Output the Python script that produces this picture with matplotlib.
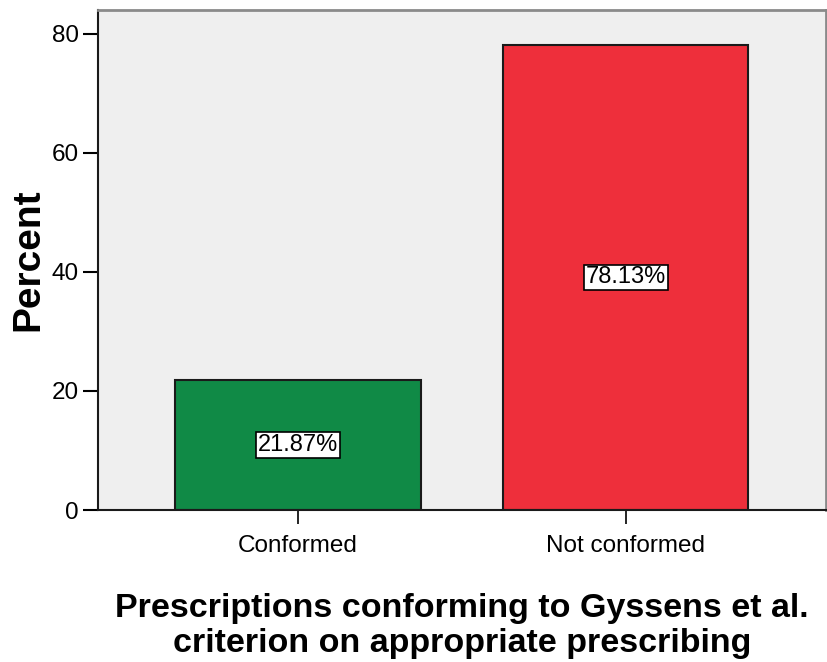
import matplotlib.pyplot as plt
import numpy as np

plt.rcParams['font.family'] = ['Liberation Sans', 'DejaVu Sans']

# categories and percentages
categories = ["Conformed", "Not conformed"]
percents = [21.87, 78.13]
bar_colors = ["#108a46", "#ee2f3b"]
y_ticks = [0, 20, 40, 60, 80]

fig = plt.figure(figsize=(8.28, 6.62), dpi=100)
ax = fig.add_axes([0.1184, 0.2296, 0.8792, 0.7554])
ax.set_facecolor("#efefef")

x = np.arange(len(categories))
ax.bar(x, percents, width=0.75, color=bar_colors, edgecolor="#1a1a1a", linewidth=1.5, zorder=2)

# value labels in the middle of each bar
for xi, p in zip(x, percents):
    ax.text(xi, p / 2, f"{p:.2f}%", ha="center", va="center", fontsize=17, zorder=3,
            bbox=dict(boxstyle="square,pad=0.08", facecolor="white", edgecolor="black", linewidth=1.2))

ax.set_xlim(-0.611, 1.612)
ax.set_ylim(0, 84)
ax.set_xticks(x)
ax.set_xticklabels(categories, fontsize=17.5)
ax.set_yticks(y_ticks)
ax.tick_params(axis="y", labelsize=17.5, length=11, width=1.5, pad=3)
ax.tick_params(axis="x", length=10, width=1.2, pad=8)

for side in ["left", "bottom"]:
    ax.spines[side].set_color("#1a1a1a")
    ax.spines[side].set_linewidth(1.5)
for side in ["top", "right"]:
    ax.spines[side].set_color("#8a8a8a")
    ax.spines[side].set_linewidth(2)

ax.set_ylabel("Percent", fontsize=28, fontweight="bold", labelpad=4)
ax.set_xlabel("Prescriptions conforming to Gyssens et al.\ncriterion on appropriate prescribing",
              fontsize=24.5, fontweight="bold", labelpad=26, linespacing=1.15)

fig.savefig("out.png", dpi=100)
